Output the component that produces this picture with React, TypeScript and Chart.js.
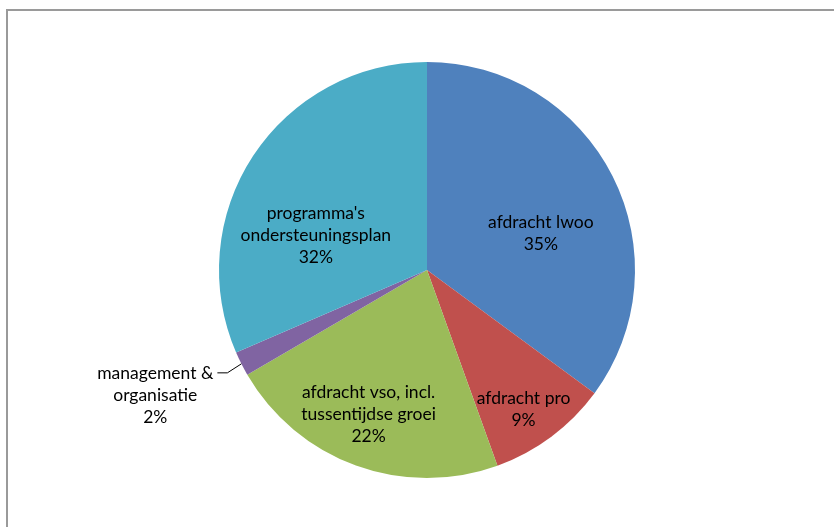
import React, { useEffect, useRef } from "react";
import { Chart, registerables } from "chart.js";

Chart.register(...registerables);

const categories = [
  "afdracht lwoo",
  "afdracht pro",
  "afdracht vso, incl. tussentijdse groei",
  "management & organisatie",
  "programma's ondersteuningsplan",
];
const labelLines = [
  ["afdracht lwoo"],
  ["afdracht pro"],
  ["afdracht vso, incl.", "tussentijdse groei"],
  ["management &", "organisatie"],
  ["programma's", "ondersteuningsplan"],
];
const values = [35.1, 9.4, 22.1, 1.9, 31.5];
const percentLabels = ["35%", "9%", "22%", "2%", "32%"];
const colors = ["#4F81BD", "#C0504D", "#9BBB59", "#8064A2", "#4BACC6"];

// label placement: radius fraction and angle shift (degrees) from slice mid-angle; null => outside with leader
const labelRadius = [0.575, 0.815, 0.75, null, 0.56];
const labelAngleShift = [9, 2, 2, 0, -16];

const FONT = '17.5px Lato, "Open Sans", sans-serif';
const LINE_H = 22;

const labelPlugin = {
  id: "sliceLabels",
  afterDatasetsDraw(chart: any) {
    const ctx = chart.ctx;
    const meta = chart.getDatasetMeta(0);
    ctx.save();
    ctx.font = FONT;
    ctx.fillStyle = "#000";
    ctx.textAlign = "center";
    ctx.textBaseline = "middle";
    meta.data.forEach((arc: any, i: number) => {
      const { x, y, startAngle, endAngle, outerRadius } = arc.getProps(
        ["x", "y", "startAngle", "endAngle", "outerRadius"],
        true
      );
      const mid = (startAngle + endAngle) / 2;
      const lines = [...labelLines[i], percentLabels[i]];
      const f = labelRadius[i];
      if (f !== null) {
        const a = mid + (labelAngleShift[i] * Math.PI) / 180;
        const cx = x + Math.cos(a) * outerRadius * f;
        const cy = y + Math.sin(a) * outerRadius * f;
        const top = cy - ((lines.length - 1) * LINE_H) / 2;
        lines.forEach((t, k) => ctx.fillText(t, cx, top + k * LINE_H));
      } else {
        const ex = x + Math.cos(mid) * outerRadius;
        const ey = y + Math.sin(mid) * outerRadius;
        const kx = ex - 14;
        const ky = ey + 9;
        const hx = kx - 10;
        ctx.strokeStyle = "#000";
        ctx.lineWidth = 1;
        ctx.beginPath();
        ctx.moveTo(ex, ey);
        ctx.lineTo(kx, ky);
        ctx.lineTo(hx, ky);
        ctx.stroke();
        const tx = hx - 4;
        const w0 = ctx.measureText(lines[0]).width;
        const cx = tx - w0 / 2;
        lines.forEach((t, k) => ctx.fillText(t, cx, ky + 1 + k * LINE_H));
      }
    });
    ctx.restore();
  },
};

export default function App() {
  const ref = useRef<HTMLCanvasElement | null>(null);
  useEffect(() => {
    if (!ref.current) return;
    const chart = new Chart(ref.current, {
      type: "pie",
      data: {
        labels: categories,
        datasets: [
          {
            data: values,
            backgroundColor: colors,
            borderWidth: 0,
          },
        ],
      },
      options: {
        animation: false,
        responsive: false,
        layout: { padding: { left: 219, right: 199, top: 62, bottom: 49 } },
        plugins: {
          legend: { display: false },
          tooltip: { enabled: false },
        },
      },
      plugins: [labelPlugin],
    });
    return () => chart.destroy();
  }, []);
  return (
    <div style={{ position: "fixed", left: 0, top: 0, width: 834, height: 527, background: "#fff", overflow: "hidden" }}>
      <div
        style={{
          position: "absolute",
          left: 6,
          top: 9,
          width: 900,
          height: 600,
          borderLeft: "2px solid #9a9a9a",
          borderTop: "2px solid #9a9a9a",
        }}
      />
      <canvas ref={ref} width={834} height={527} style={{ position: "absolute", left: 0, top: 0 }} />
    </div>
  );
}
